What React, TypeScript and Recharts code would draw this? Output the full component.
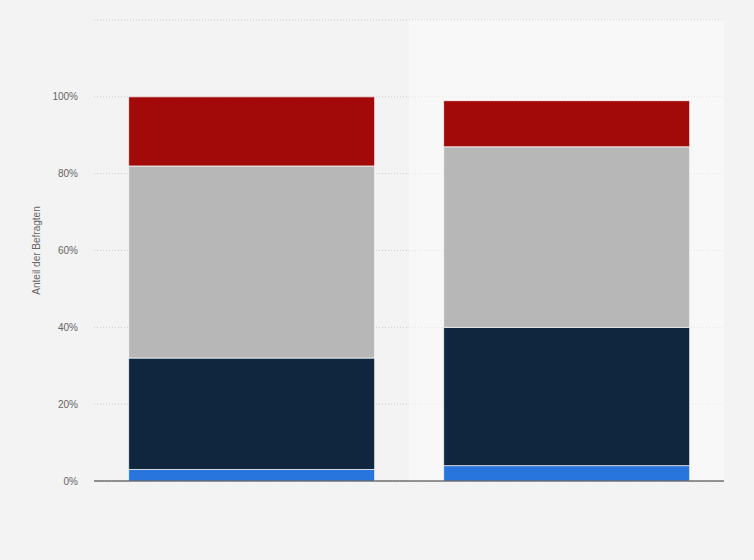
import React from "react";
import {
  BarChart,
  Bar,
  XAxis,
  YAxis,
  CartesianGrid,
  ReferenceArea,
} from "recharts";

const categories = ["A", "B"];
const blueValues = [3, 4];
const navyValues = [29, 36];
const grayValues = [50, 47];
const redValues = [18, 12];
const yTicks = [0, 20, 40, 60, 80, 100, 120];

const chartData = categories.map((category, i) => ({
  category,
  blue: blueValues[i],
  navy: navyValues[i],
  gray: grayValues[i],
  red: redValues[i],
}));

export default function App() {
  return (
    <div
      style={{
        position: "absolute",
        left: 0,
        top: 0,
        width: 754,
        height: 560,
        background: "#f3f3f3",
        fontFamily: "'Liberation Sans', Arial, sans-serif",
      }}
    >
      <BarChart
        width={754}
        height={560}
        data={chartData}
        margin={{ top: 20, right: 30, bottom: 49, left: 0 }}
        barCategoryGap="11%"
      >
        <ReferenceArea
          x1="B"
          x2="B"
          fill="#ffffff"
          fillOpacity={0.45}
          stroke="none"
          ifOverflow="visible"
        />
        <CartesianGrid
          vertical={false}
          stroke="#cccccc"
          strokeDasharray="1 2"
        />
        <XAxis
          dataKey="category"
          tick={false}
          tickLine={false}
          height={30}
          axisLine={{ stroke: "#333333", strokeWidth: 1 }}
        />
        <YAxis
          width={94}
          domain={[0, 120]}
          ticks={yTicks}
          axisLine={false}
          tickLine={false}
          tickSize={0}
          tickMargin={16}
          tick={{ fontSize: 10, fill: "#666666" }}
          tickFormatter={(v) => (v === 120 ? "" : `${v}%`)}
          label={{
            value: "Anteil der Befragten",
            angle: -90,
            position: "insideLeft",
            offset: 36,
            style: { fontSize: 10, fill: "#666666", textAnchor: "middle" },
          }}
        />
        <Bar dataKey="blue" stackId="s" fill="#2876dd" stroke="#ffffff" strokeOpacity={0.7} isAnimationActive={false} />
        <Bar dataKey="navy" stackId="s" fill="#10263f" stroke="#ffffff" strokeOpacity={0.7} isAnimationActive={false} />
        <Bar dataKey="gray" stackId="s" fill="#b7b7b7" stroke="#ffffff" strokeOpacity={0.7} isAnimationActive={false} />
        <Bar dataKey="red" stackId="s" fill="#a20a0a" stroke="#ffffff" strokeOpacity={0.7} isAnimationActive={false} />
      </BarChart>
    </div>
  );
}
